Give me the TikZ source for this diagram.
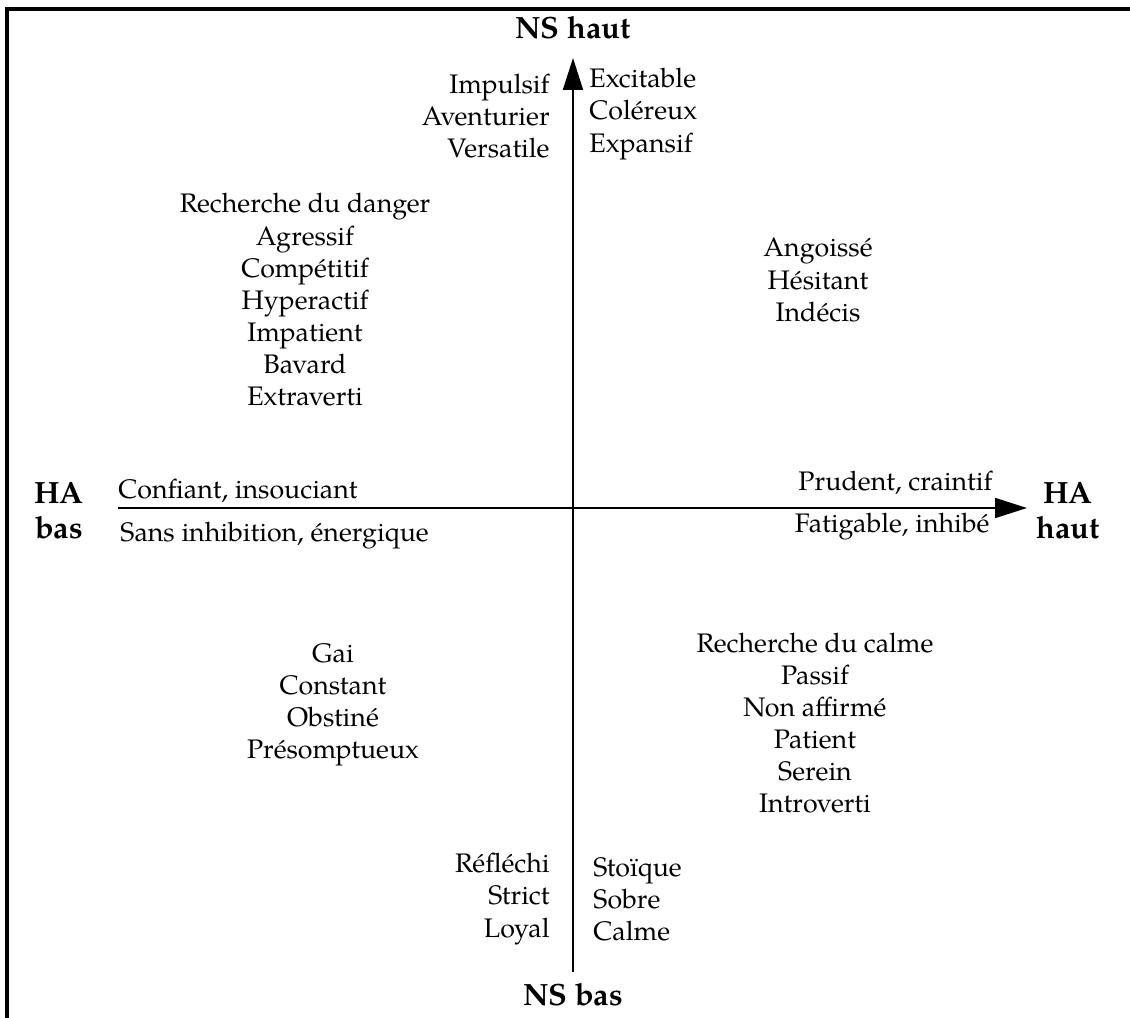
\documentclass[tikz,border=0pt]{standalone}
\usepackage{fontspec}
\setmainfont{TeX Gyre Pagella}
\usetikzlibrary{positioning,arrows.meta}

\begin{document}
\begin{tikzpicture}[
    x=0.016cm, y=-0.016cm,
    % Text styles
    word/.style={inner sep=0pt, align=center, font=\fontsize{12.2}{14.65}\selectfont},
    wordl/.style={word, align=left, anchor=west},
    wordr/.style={word, align=right, anchor=east},
    pole/.style={inner sep=0pt, align=center, font=\fontsize{14}{16}\selectfont\bfseries},
    % Axes and frame
    axis/.style={-{Triangle[length=14.5pt, width=9pt]}, line width=1.1pt, black},
    frame/.style={line width=1.4pt, black}
]
\useasboundingbox (0,0) rectangle (1130,1018);

% Frame (only top and left sides show)
\coordinate (fbl) at (7,1040);
\coordinate (ftr) at (1140,9);
\draw[frame] (fbl) |- (ftr);

% Axes
\coordinate (nsbot) at (573,972);
\coordinate (nstop) at (573,58);
\coordinate (habot) at (118,508);
\coordinate (hatop) at (1027,508);
\draw[axis] (nsbot) -- (nstop);
\draw[axis] (habot) -- (hatop);

% Pole labels
\node[pole] (nshaut) at (573,28) {NS haut};
\node[pole] (nsbas) at (573,995) {NS bas};
\node[pole] (habas) at (59,511) {HA\\bas};
\node[pole] (hahaut) at (1068,511) {HA\\haut};

% Along the HA axis
\node[wordl] (confiant) at (118,491) {Confiant, insouciant};
\node[wordl] (sans) at (120,536) {Sans inhibition, énergique};
\node[wordr] (prudent) at (993,483) {Prudent, craintif};
\node[wordr] (fatigable) at (990,527) {Fatigable, inhibé};

% Along the NS axis
\node[wordr] (impulsif) at (550,116) {Impulsif\\Aventurier\\Versatile};
\node[wordl] (excitable) at (589,114) {Excitable\\Coléreux\\Expansif};
\node[wordr] (reflechi) at (550,899) {Réfléchi\\Strict\\Loyal};
\node[wordl] (stoique) at (593,899) {Stoïque\\Sobre\\Calme};

% Quadrants
\node[word] (danger) at (305,300) {Recherche du danger\\Agressif\\Compétitif\\Hyperactif\\Impatient\\Bavard\\Extraverti};
\node[word] (angoisse) at (818,280) {Angoissé\\Hésitant\\Indécis};
\node[word] (gai) at (333,705) {Gai\\Constant\\Obstiné\\Présomptueux};
\node[word] (calme) at (815,723) {Recherche du calme\\Passif\\Non affirmé\\Patient\\Serein\\Introverti};

\end{tikzpicture}
\end{document}
